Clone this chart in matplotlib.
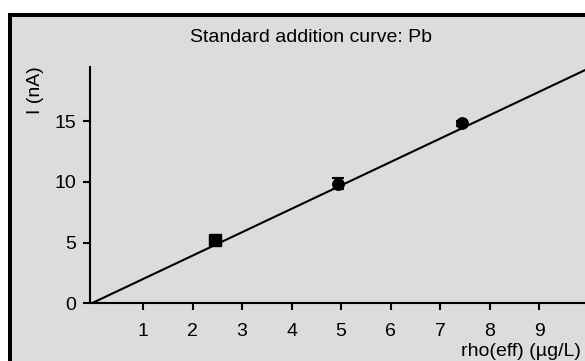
import matplotlib
matplotlib.use("Agg")
import matplotlib.pyplot as plt
from matplotlib.patches import Rectangle
import numpy as np

plt.rcParams['font.family'] = ['Liberation Sans', 'DejaVu Sans']

# measured standard additions
rho = [2.45, 4.94, 7.43]
current = [5.22, 9.85, 14.85]
current_err = [0.27, 0.45, 0.2]
markers = ['s', 'o', 'o']

# regression line
slope = 1.93
intercept = 0.07
x_ticks = [1, 2, 3, 4, 5, 6, 7, 8, 9]
y_ticks = [0, 5, 10, 15]

W, H = 585, 361
fig = plt.figure(figsize=(W / 100, H / 100), dpi=100)
fig.patch.set_facecolor('white')

# grey panel with thick black frame (runs off the right/bottom edges)
fig.patches.append(Rectangle((9.8 / W, -0.2), 1.3, 1 - 15 / H + 0.2,
                             transform=fig.transFigure, facecolor='#dcdcdc',
                             edgecolor='black', linewidth=2.9, zorder=0))

ax = fig.add_axes([90 / W, (H - 303.3) / H, 0.8718, (303.3 - 66.7) / H])
ax.set_zorder(2)
ax.set_facecolor('none')
ax.set_xlim(-0.07, 10.225)
ax.set_ylim(0, 19.5)

xs = np.array([0, 10.5])
ax.plot(xs, intercept + slope * xs, color='black', lw=1.5, zorder=3,
        clip_on=False)

for x, y, e, m in zip(rho, current, current_err, markers):
    ax.errorbar(x, y, yerr=e, fmt='none', ecolor='black', elinewidth=1.5,
                capsize=4, capthick=1.5, zorder=4)
    ax.plot(x, y, marker=m, color='black', markersize=8.2, zorder=5)

for s in ['top', 'right']:
    ax.spines[s].set_visible(False)
for s in ['left', 'bottom']:
    ax.spines[s].set_linewidth(1.5)

ax.set_xticks(x_ticks)
ax.set_yticks(y_ticks)
ax.tick_params(direction='out', length=5, width=1.5, labelsize=14)
ax.tick_params(axis='x', pad=9)
ax.tick_params(axis='y', pad=5)

fig.text(311 / W, 1 - 37.5 / H, 'Standard addition curve: Pb', ha='center',
         va='center', fontsize=14, zorder=3)
fig.text(35 / W, 1 - 66 / H, 'I (nA)', ha='center', va='top', rotation=90,
         fontsize=14, zorder=3)
fig.text(581 / W, 1 - 343 / H, 'rho(eff) (µg/L)', ha='right', va='top',
         fontsize=14, zorder=3)

fig.savefig('out.png', dpi=100)
